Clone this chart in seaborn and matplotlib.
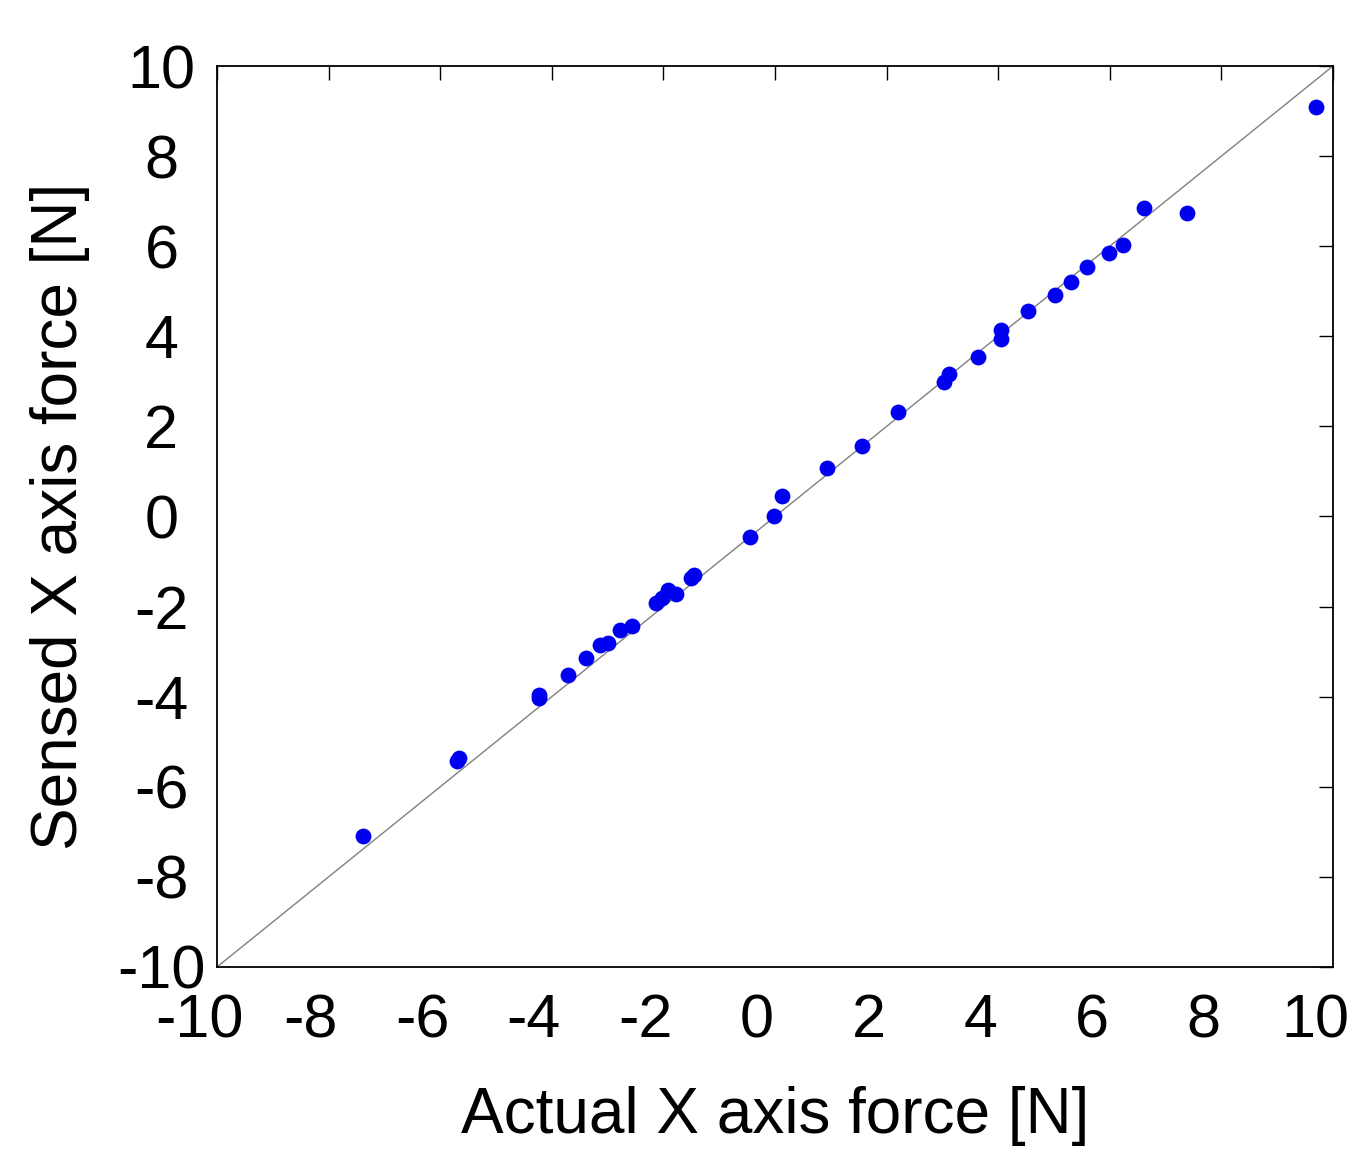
import numpy as np
import pandas as pd
import matplotlib
matplotlib.use('Agg')
import matplotlib.pyplot as plt
import matplotlib.transforms as mtransforms
import seaborn as sb

# actual vs sensed force readings [N]
actual = [-7.38, -5.70, -5.66, -4.23, -4.23, -3.71, -3.38, -3.14, -3.00,
          -2.77, -2.56, -2.13, -2.03, -1.91, -1.78, -1.51, -1.45,
          -0.45, -0.02, 0.13, 0.94, 1.56, 2.21, 3.02, 3.12, 3.64,
          4.05, 4.05, 4.53, 5.02, 5.30, 5.60, 5.99, 6.24, 6.61, 7.38, 9.70]
sensed = [-7.09, -5.42, -5.36, -3.96, -4.03, -3.52, -3.13, -2.85, -2.80,
          -2.53, -2.42, -1.93, -1.82, -1.63, -1.71, -1.37, -1.30,
          -0.45, 0.02, 0.46, 1.07, 1.56, 2.31, 2.98, 3.16, 3.53,
          4.14, 3.94, 4.56, 4.92, 5.20, 5.53, 5.86, 6.03, 6.84, 6.73, 9.09]
ideal = [-10, 10]
ticks = [-10, -8, -6, -4, -2, 0, 2, 4, 6, 8, 10]

df = pd.DataFrame({'actual': actual, 'sensed': sensed})

sb.set_style('white')
plt.rcParams['font.family'] = ['Liberation Sans', 'DejaVu Sans']
plt.rcParams['axes.unicode_minus'] = False
plt.rcParams['text.color'] = 'black'
plt.rcParams['axes.labelcolor'] = 'black'

fig = plt.figure(figsize=(13.63, 11.52), dpi=100)
ax = fig.add_axes([0.1592, 0.1606, 0.8188, 0.7821])

ax.plot(ideal, ideal, color='#808080', linewidth=1, zorder=1)
sb.scatterplot(data=df, x='actual', y='sensed', color='#0000f0',
               s=130, linewidth=0, ax=ax, zorder=2)

ax.set_xlim(-10, 10)
ax.set_ylim(-10, 10)
ax.set_xticks(ticks)
ax.set_yticks(ticks)
ax.tick_params(direction='in', length=10, width=1, colors='black',
               top=True, right=True, labelsize=44)
ax.tick_params(axis='x', pad=19)
ax.tick_params(axis='y', pad=40)
for lab in ax.get_yticklabels():
    lab.set_horizontalalignment('center')
shift = mtransforms.ScaledTranslation(-18 / 100, 0, fig.dpi_scale_trans)
for lab in ax.get_xticklabels():
    lab.set_transform(lab.get_transform() + shift)
for s in ax.spines.values():
    s.set_color('black')
    s.set_linewidth(1.3)

ax.set_xlabel('Actual X axis force [N]', fontsize=46)
ax.set_ylabel('Sensed X axis force [N]', fontsize=46)
ax.xaxis.set_label_coords(0.5, -0.132)
ax.yaxis.set_label_coords(-0.114, 0.5)

fig.savefig('out.png', dpi=100)
